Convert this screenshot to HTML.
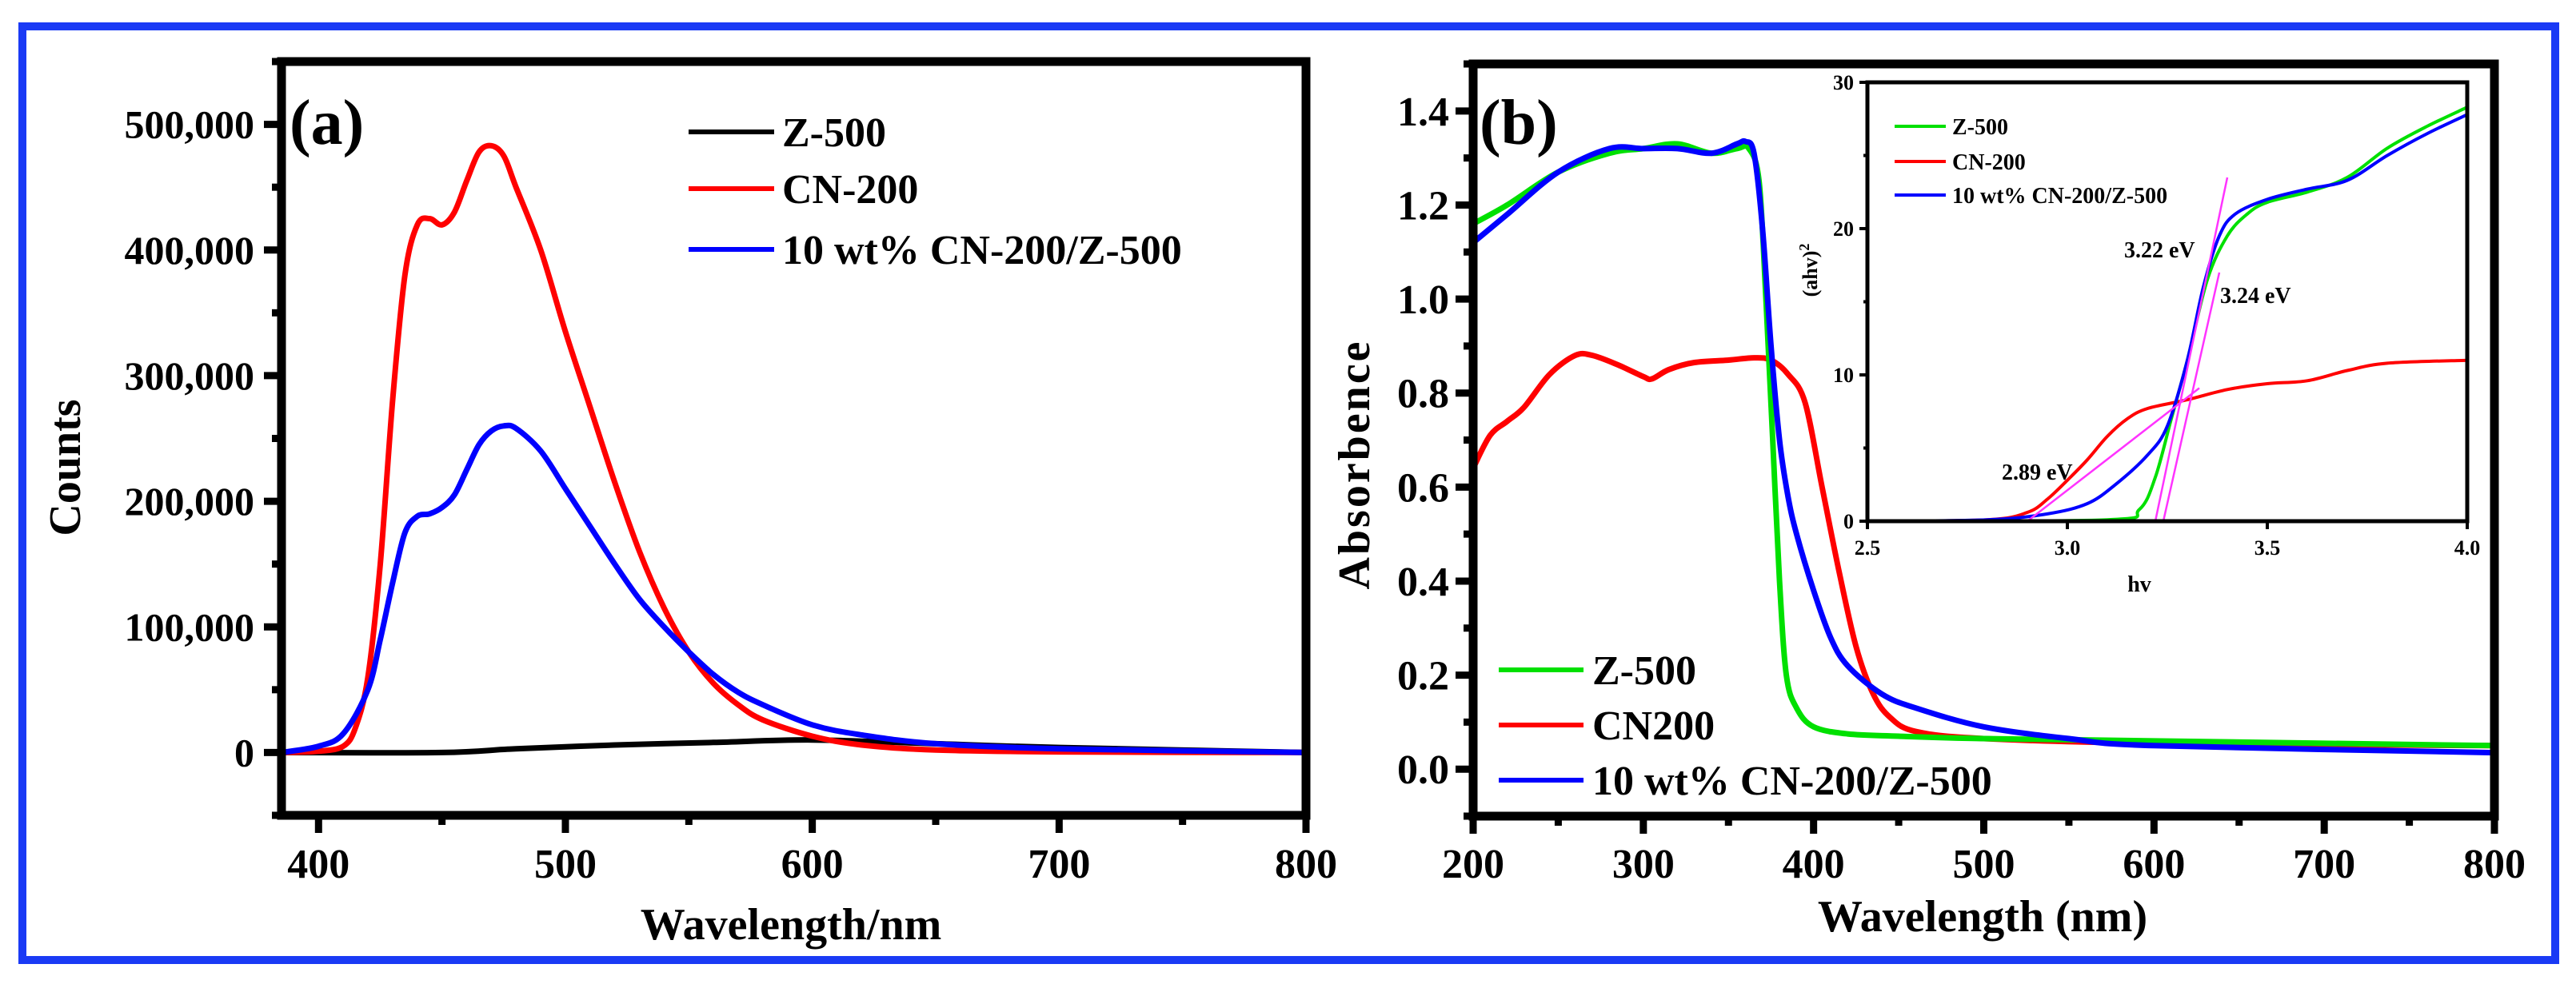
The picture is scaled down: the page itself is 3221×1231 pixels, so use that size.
<!DOCTYPE html>
<html><head><meta charset="utf-8"><style>
html,body{margin:0;padding:0;background:#fff}
svg{display:block}
text{font-family:"Liberation Serif",serif;font-weight:bold;fill:#000}
</style></head><body>
<svg id="fig" width="3221" height="1231" viewBox="0 0 3221 1231" xmlns="http://www.w3.org/2000/svg">
<rect x="28" y="33" width="3167" height="1168" fill="none" stroke="#1a3af5" stroke-width="10"/>
<g id="pa"></g>
<g id="pb"></g>
<g id="pi"></g>
</svg>
<script>
// Panel (a) data: wavelength (nm), counts (thousands)
const aRedX=[385,400,410,415,420,425,430,435,440,445,450,455,460,465,470,475,480,490,500,510,520,530,540,550,560,570,580,600,620,650,700,800];
const aRedY=[0,1,5,20,60,150,280,380,420,425,420,430,455,478,483,475,450,400,335,275,215,160,115,80,55,38,26,13,6,2,0.5,0];
const aBlueX=[385,400,410,420,425,430,435,440,445,450,455,460,465,470,475,480,490,500,510,520,530,540,550,560,570,580,600,620,650,700,800];
const aBlueY=[0,5,15,50,90,135,175,188,190,195,205,225,245,256,260,258,240,210,180,150,122,100,80,62,48,38,22,14,7,3,0];
const aBlackX=[385,450,480,520,560,600,650,700,800];
const aBlackY=[0,0,3,6,8,10,7,4,0];
const aYTicks=[0,100,200,300,400,500];
const aYLabels=["0","100,000","200,000","300,000","400,000","500,000"];
const aXTicks=[400,500,600,700,800];
// Panel (b) data: wavelength (nm), absorbance
const bGreenX=[200,220,250,280,300,320,340,355,362,368,372,376,380,384,390,400,420,450,500,600,800];
const bGreenY=[1.16,1.2,1.27,1.31,1.32,1.33,1.31,1.32,1.32,1.25,1.0,0.7,0.4,0.2,0.13,0.09,0.075,0.07,0.065,0.06,0.05];
const bBlueX=[200,220,250,280,300,320,340,355,360,365,370,375,380,385,390,400,410,420,440,460,500,550,600,800];
const bBlueY=[1.12,1.18,1.27,1.32,1.32,1.32,1.31,1.33,1.335,1.31,1.15,0.9,0.7,0.58,0.5,0.38,0.28,0.22,0.16,0.13,0.09,0.065,0.05,0.035];
const bRedX=[200,210,220,230,245,260,270,285,300,305,315,330,350,365,375,385,395,405,415,425,435,445,460,500,600,800];
const bRedY=[0.64,0.71,0.74,0.77,0.84,0.88,0.88,0.86,0.835,0.83,0.85,0.865,0.87,0.875,0.87,0.84,0.78,0.6,0.42,0.26,0.16,0.11,0.08,0.065,0.055,0.05];
const bYTicks=[0,0.2,0.4,0.6,0.8,1.0,1.2,1.4];
const bXTicks=[200,300,400,500,600,700,800];
// Inset data: hv (eV), (ahv)^2
const iGreenX=[2.5,3.1,3.18,3.22,3.26,3.3,3.35,3.4,3.45,3.5,3.6,3.7,3.8,3.9,4.0];
const iGreenY=[0,0.1,0.8,3,7,11,16.5,19.5,21,21.8,22.5,23.5,25.5,27,28.3];
const iBlueX=[2.5,2.8,2.95,3.05,3.12,3.2,3.25,3.3,3.34,3.38,3.42,3.5,3.6,3.7,3.8,3.9,4.0];
const iBlueY=[0,0.1,0.5,1.2,2.5,4.5,6.5,11,16,19.5,21,22,22.7,23.3,25,26.5,27.8];
const iRedX=[2.5,2.8,2.9,2.95,3.0,3.05,3.1,3.15,3.2,3.3,3.4,3.5,3.6,3.7,3.8,4.0];
const iRedY=[0,0.1,0.6,1.5,2.8,4.2,5.8,7,7.7,8.3,9.0,9.4,9.6,10.3,10.8,11];
const tangentX0=[3.22,3.24,2.9];
const tangentY0=[0,0,0];
const tangentX1=[3.40,3.38,3.33];
const tangentY1=[23.5,17,9.1];
const iXTicks=[2.5,3.0,3.5,4.0];
const iYTicks=[0,10,20,30];

const NS="http://www.w3.org/2000/svg";
function mk(parent,tag,attrs,txt){const e=document.createElementNS(NS,tag);for(const k in attrs)e.setAttribute(k,attrs[k]);if(txt!==undefined)e.textContent=txt;parent.appendChild(e);return e;}
function scale(d0,d1,r0,r1){return v=>r0+(v-d0)/(d1-d0)*(r1-r0);}
function line(g,xs,ys,sx,sy,color,w,name){
  const P=xs.map((x,i)=>[sx(x),sy(ys[i])]);
  let d='M'+P[0][0].toFixed(1)+','+P[0][1].toFixed(1);
  for(let i=0;i<P.length-1;i++){
    const p0=P[Math.max(0,i-1)],p1=P[i],p2=P[i+1],p3=P[Math.min(P.length-1,i+2)];
    const c1=[p1[0]+(p2[0]-p0[0])/6,p1[1]+(p2[1]-p0[1])/6];
    const c2=[p2[0]-(p3[0]-p1[0])/6,p2[1]-(p3[1]-p1[1])/6];
    d+='C'+c1[0].toFixed(1)+','+c1[1].toFixed(1)+' '+c2[0].toFixed(1)+','+c2[1].toFixed(1)+' '+p2[0].toFixed(1)+','+p2[1].toFixed(1);
  }
  const p=mk(g,'path',{d:d,fill:'none',stroke:color,'stroke-width':w,'stroke-linejoin':'round'});
  
  
  return p;
}

// ---------- Panel A ----------
(function(){
const g=document.getElementById('pa');
const L=352,R=1633,T=77,B=1020;
const sx=scale(385,800,L,R), sy=scale(-50,550,B,T);
line(g,aBlackX,aBlackY,sx,sy,'#000',7,'series-z500');
line(g,aRedX,aRedY,sx,sy,'#ff0000',7,'series-cn200');
line(g,aBlueX,aBlueY,sx,sy,'#0000ff',7,'series-composite');
const f=mk(g,'rect',{x:L,y:T,width:R-L,height:B-T,fill:'none',stroke:'#000','stroke-width':11});


for(let v=-50;v<=550;v+=50){const y=sy(v);const major=aYTicks.includes(v);
  mk(g,'line',{x1:L,x2:L-(major?22:12),y1:y,y2:y,stroke:'#000','stroke-width':9});}
aYTicks.forEach((v,i)=>{const t=mk(g,'text',{x:318,y:sy(v)+17,'text-anchor':'end','font-size':50},aYLabels[i]);
  
  });
for(let v=400;v<=800;v+=50){const x=sx(v);const major=aXTicks.includes(v);
  mk(g,'line',{x1:x,x2:x,y1:B,y2:B+(major?22:12),stroke:'#000','stroke-width':9});}
aXTicks.forEach(v=>{const t=mk(g,'text',{x:sx(v),y:1098,'text-anchor':'middle','font-size':52},String(v));
  
  });
let t=mk(g,'text',{x:989,y:1175,'text-anchor':'middle','font-size':56},'Wavelength/nm');


t=mk(g,'text',{x:0,y:0,'text-anchor':'middle','font-size':56,transform:'translate(100,585) rotate(-90)'},'Counts');


t=mk(g,'text',{x:362,y:180,'font-size':80},'(a)');


const leg=[['Z-500','#000',165],['CN-200','#ff0000',236],['10 wt% CN-200/Z-500','#0000ff',312]];
leg.forEach((l,i)=>{const e=mk(g,'g',{});
  
  
  mk(e,'line',{x1:861,x2:968,y1:l[2],y2:l[2],stroke:l[1],'stroke-width':6});
  mk(e,'text',{x:978,y:l[2]+18,'font-size':52},l[0]);});
})();

// ---------- Panel B ----------
(function(){
const g=document.getElementById('pb');
const L=1842,R=3119,T=80,B=1021;
const sx=scale(200,800,L,R), sy=scale(-0.1,1.5,B,T);
line(g,bRedX,bRedY,sx,sy,'#ff0000',7,'series-cn200');
line(g,bGreenX,bGreenY,sx,sy,'#00e000',7,'series-z500');
line(g,bBlueX,bBlueY,sx,sy,'#0000ff',7,'series-composite');
const f=mk(g,'rect',{x:L,y:T,width:R-L,height:B-T,fill:'none',stroke:'#000','stroke-width':11});


for(let k=-1;k<=15;k++){const v=k/10;const y=sy(v);const major=(k>=0&&k%2===0&&k<=14);
  mk(g,'line',{x1:L,x2:L-(major?22:12),y1:y,y2:y,stroke:'#000','stroke-width':9});}
bYTicks.forEach(v=>{const t=mk(g,'text',{x:1812,y:sy(v)+18,'text-anchor':'end','font-size':52},v.toFixed(1));
  
  });
for(let v=200;v<=800;v+=50){const x=sx(v);const major=bXTicks.includes(v);
  mk(g,'line',{x1:x,x2:x,y1:B,y2:B+(major?22:12),stroke:'#000','stroke-width':9});}
bXTicks.forEach(v=>{const t=mk(g,'text',{x:sx(v),y:1098,'text-anchor':'middle','font-size':52},String(v));
  
  });
let t=mk(g,'text',{x:2479,y:1165,'text-anchor':'middle','font-size':56},'Wavelength (nm)');


t=mk(g,'text',{x:0,y:0,'text-anchor':'middle','font-size':56,'letter-spacing':3,transform:'translate(1712,581) rotate(-90)'},'Absorbence');


t=mk(g,'text',{x:1850,y:180,'font-size':80},'(b)');


const leg=[['Z-500','#00e000',838],['CN200','#ff0000',907],['10 wt% CN-200/Z-500','#0000ff',976]];
leg.forEach(l=>{const e=mk(g,'g',{});
  
  
  mk(e,'line',{x1:1874,x2:1980,y1:l[2],y2:l[2],stroke:l[1],'stroke-width':6});
  mk(e,'text',{x:1991,y:l[2]+18,'font-size':52},l[0]);});
})();

// ---------- Inset ----------
(function(){
const g=document.getElementById('pi');
const L=2335,R=3085,T=103,B=652;
const sx=scale(2.5,4.0,L,R), sy=scale(0,30,B,T);
line(g,iRedX,iRedY,sx,sy,'#ff0000',4,'inset-series-cn200');
line(g,iGreenX,iGreenY,sx,sy,'#00e000',4,'inset-series-z500');
line(g,iBlueX,iBlueY,sx,sy,'#0000ff',4,'inset-series-composite');
tangentX0.forEach((x0,i)=>{const l=mk(g,'line',{x1:sx(x0),y1:sy(tangentY0[i]),x2:sx(tangentX1[i]),y2:sy(tangentY1[i]),stroke:'#ff33ff','stroke-width':2.5});
  
  });
const f=mk(g,'rect',{x:L,y:T,width:R-L,height:B-T,fill:'none',stroke:'#000','stroke-width':5});


for(let v=0;v<=30;v+=5){const y=sy(v);mk(g,'line',{x1:L,x2:L-(v%10===0?10:5),y1:y,y2:y,stroke:'#000','stroke-width':4});}
iYTicks.forEach(v=>{const t=mk(g,'text',{x:2318,y:sy(v)+9,'text-anchor':'end','font-size':26},String(v));
  
  });
iXTicks.forEach(v=>{mk(g,'line',{x1:sx(v),x2:sx(v),y1:B,y2:B+10,stroke:'#000','stroke-width':4});
  const t=mk(g,'text',{x:sx(v),y:694,'text-anchor':'middle','font-size':26},v.toFixed(1));
  
  });
let t=mk(g,'text',{x:2675,y:740,'text-anchor':'middle','font-size':28},'hv');


t=mk(g,'text',{x:0,y:0,'text-anchor':'middle','font-size':26,transform:'translate(2272,338) rotate(-90)'});


t.textContent='(ahv)';
mk(t,'tspan',{dy:-10,'font-size':18},'2');
[['3.22 eV',2656,322],['3.24 eV',2776,379],['2.89 eV',2503,600]].forEach(a=>{
  const e=mk(g,'text',{x:a[1],y:a[2],'font-size':28},a[0]);
  
  });
const leg=[['Z-500','#00e000',158],['CN-200','#ff0000',202],['10 wt% CN-200/Z-500','#0000ff',244]];
leg.forEach(l=>{const e=mk(g,'g',{});
  
  
  mk(e,'line',{x1:2369,x2:2433,y1:l[2],y2:l[2],stroke:l[1],'stroke-width':4});
  mk(e,'text',{x:2441,y:l[2]+10,'font-size':28},l[0]);});
})();
</script>
</body></html>
